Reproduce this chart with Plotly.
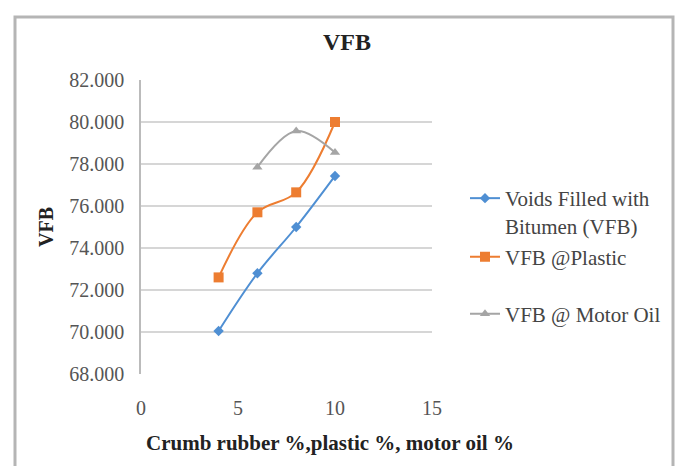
import plotly.graph_objects as go

x_vals = [4, 6, 8, 10]
vfb = [70.05, 72.8, 75.0, 77.43]
x_oil = [6, 8, 10]
vfb_plastic = [72.6, 75.7, 76.65, 80.0]
vfb_oil = [77.85, 79.57, 78.55]
y_ticks = [68, 70, 72, 74, 76, 78, 80, 82]
y_labels = ["68.000", "70.000", "72.000", "74.000", "76.000", "78.000", "80.000", "82.000"]
x_ticks = [0, 5, 10, 15]

FONT = "Liberation Serif"
OFF = 8  # page body margin
W, H = 688, 466
L, R, T, B = 141 - OFF, 432 - OFF, 80 - OFF, 374 - OFF
PW, PH = R - L, B - T


def px(xp):
    return (xp - OFF - L) / PW


def py(yp):
    return (B - (yp - OFF)) / PH


fig = go.Figure()
fig.add_trace(go.Scatter(x=x_vals, y=vfb, mode="lines+markers",
                         name="Voids Filled with<br>Bitumen (VFB)", legend="legend",
                         line=dict(color="#4F8FD3", width=2, shape="spline"),
                         marker=dict(symbol="diamond", size=8, color="#4F8FD3")))
fig.add_trace(go.Scatter(x=x_vals, y=vfb_plastic, mode="lines+markers",
                         name="VFB @Plastic", legend="legend2",
                         line=dict(color="#ED7D31", width=2, shape="spline"),
                         marker=dict(symbol="square", size=10, color="#ED7D31")))
fig.add_trace(go.Scatter(x=x_oil, y=vfb_oil, mode="lines+markers",
                         name="VFB @ Motor Oil", legend="legend3",
                         line=dict(color="#A5A5A5", width=2, shape="spline"),
                         marker=dict(symbol="triangle-up", size=9, color="#A5A5A5")))

leg_common = dict(xanchor="left", font=dict(family=FONT, size=21, color="#444444"),
                  itemwidth=30, bgcolor="rgba(0,0,0,0)", valign="top", yanchor="middle")

fig.update_layout(
    width=W, height=H,
    margin=dict(l=L, r=W - R, t=T, b=H - B, autoexpand=False),
    paper_bgcolor="white", plot_bgcolor="white",
    font=dict(family=FONT, size=20, color="#555555"),
    title=dict(text="<b>VFB</b>", x=(347 - OFF) / W, xanchor="center", y=1 - (42 - OFF) / H,
               yanchor="middle", font=dict(family=FONT, size=24, color="#222222")),
    xaxis=dict(range=[0, 15], tickvals=x_ticks, showgrid=False, zeroline=False, automargin=False,
               showline=False, ticks="", tickfont=dict(family=FONT, size=20, color="#555555"),
               ticklabelstandoff=20),
    yaxis=dict(range=[68, 82], tickvals=y_ticks, ticktext=y_labels, showgrid=True, automargin=False,
               gridcolor="#D6D6D6", gridwidth=1.5, zeroline=False,
               showline=True, linecolor="#BBBBBB", linewidth=1.5, ticks="",
               tickfont=dict(family=FONT, size=20, color="#555555"), ticklabelstandoff=11,
               title=dict(text="<b>VFB</b>", font=dict(family=FONT, size=20, color="#222222"), standoff=10)),
    legend=dict(x=px(465), y=py(212), **leg_common),
    legend2=dict(x=px(465), y=py(257), **leg_common),
    legend3=dict(x=px(465), y=py(314), **leg_common),
    showlegend=True,
)
fig.add_annotation(text="<b>Crumb rubber %,plastic %, motor oil %</b>", xref="paper", yref="paper",
                   x=px(330), y=py(443), xanchor="center", yanchor="middle", showarrow=False,
                   font=dict(family=FONT, size=21, color="#222222"))
fig.add_shape(type="rect", xref="paper", yref="paper",
              x0=px(15), x1=px(673), y0=py(500), y1=py(17),
              line=dict(color="#B5B5B5", width=3), layer="below")

fig.write_html("out.html")
